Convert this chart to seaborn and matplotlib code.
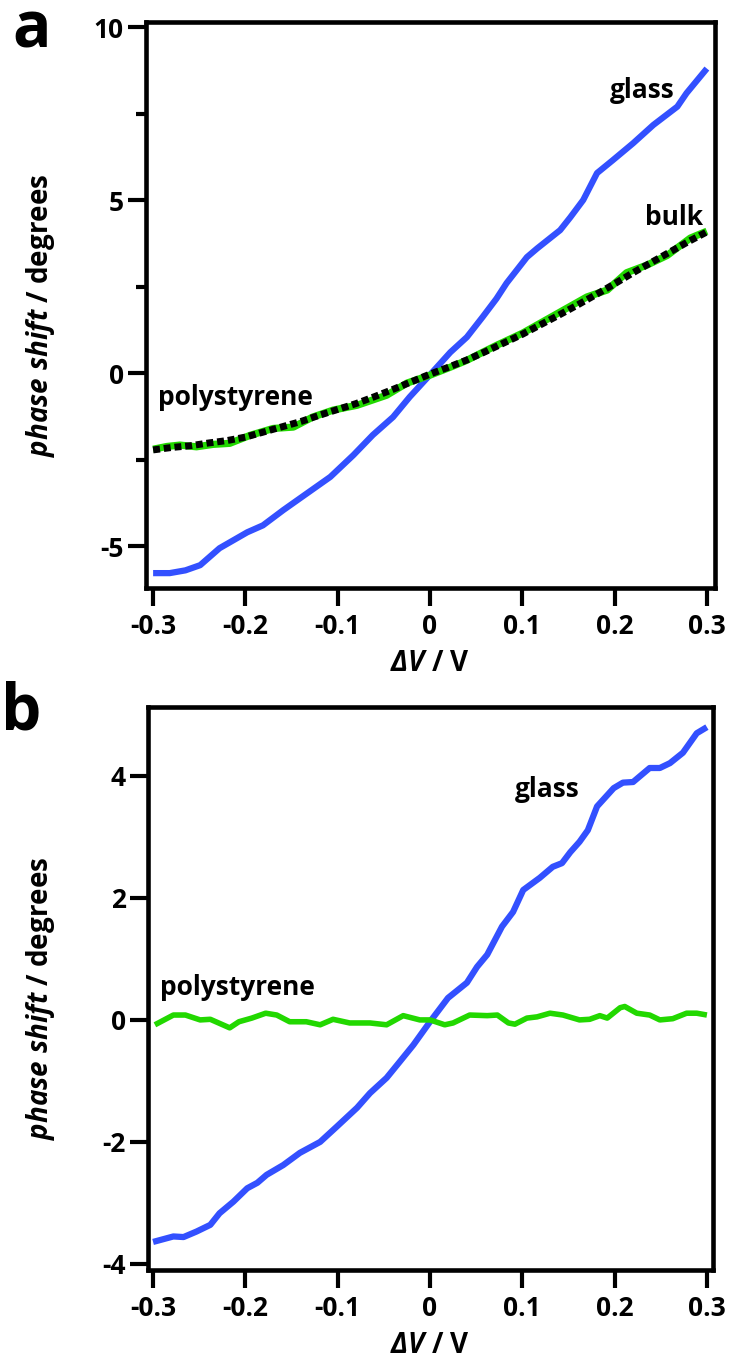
import matplotlib
matplotlib.use("Agg")
import matplotlib.pyplot as plt
from matplotlib.ticker import FixedLocator
import seaborn as sns

# ---- panel a: phase shift vs applied potential ----
a_glass_v = [-0.300, -0.282, -0.265, -0.249, -0.228, -0.198, -0.181, -0.159, -0.133, -0.108,
             -0.083, -0.062, -0.040, -0.022, 0.000, 0.022, 0.040, 0.057, 0.072, 0.083,
             0.105, 0.116, 0.141, 0.152, 0.166, 0.181, 0.198, 0.220, 0.242, 0.268,
             0.278, 0.300]
a_glass_phase = [-5.78, -5.78, -5.70, -5.55, -5.06, -4.60, -4.40, -3.96, -3.47, -3.00,
                 -2.37, -1.79, -1.27, -0.69, -0.05, 0.60, 1.04, 1.62, 2.15, 2.60,
                 3.35, 3.60, 4.13, 4.50, 5.00, 5.78, 6.15, 6.64, 7.17, 7.70,
                 8.09, 8.80]

a_ps_v = [-0.300, -0.285, -0.271, -0.253, -0.235, -0.217, -0.195, -0.170, -0.148, -0.127,
          -0.105, -0.079, -0.047, -0.025, 0.000, 0.022, 0.040, 0.057, 0.072, 0.100,
          0.130, 0.150, 0.170, 0.192, 0.213, 0.235, 0.257, 0.282, 0.300]
a_ps_phase = [-2.20, -2.12, -2.08, -2.13, -2.06, -2.03, -1.80, -1.60, -1.56, -1.27,
              -1.07, -0.93, -0.64, -0.29, -0.06, 0.17, 0.37, 0.60, 0.80, 1.15,
              1.60, 1.90, 2.20, 2.40, 2.90, 3.12, 3.40, 3.90, 4.10]

a_bulk_v = [-0.30, -0.28, -0.26, -0.24, -0.22, -0.20, -0.18, -0.16, -0.14, -0.12,
            -0.10, -0.08, -0.06, -0.04, -0.02, 0.00, 0.02, 0.04, 0.06, 0.08,
            0.10, 0.12, 0.14, 0.16, 0.18, 0.20, 0.22, 0.24, 0.26, 0.28, 0.30]
a_bulk_phase = [-2.22, -2.15, -2.10, -2.02, -1.95, -1.85, -1.70, -1.55, -1.40, -1.22,
                -1.05, -0.88, -0.68, -0.47, -0.25, -0.03, 0.17, 0.38, 0.62, 0.87,
                1.12, 1.40, 1.68, 1.97, 2.27, 2.58, 2.90, 3.20, 3.50, 3.80, 4.08]

# ---- panel b ----
b_glass_v = [-0.300, -0.278, -0.267, -0.253, -0.238, -0.228, -0.213, -0.198, -0.187, -0.177,
             -0.159, -0.141, -0.119, -0.101, -0.079, -0.065, -0.047, -0.033, -0.018, 0.000,
             0.0195, 0.040, 0.051, 0.062, 0.078, 0.090, 0.101, 0.119, 0.133, 0.143,
             0.152, 0.162, 0.171, 0.181, 0.199, 0.209, 0.220, 0.238, 0.249, 0.260,
             0.274, 0.289, 0.300]
b_glass_phase = [-3.64, -3.55, -3.56, -3.47, -3.36, -3.17, -2.98, -2.76, -2.67, -2.54,
                 -2.38, -2.18, -2.00, -1.75, -1.44, -1.20, -0.95, -0.69, -0.41, -0.03,
                 0.36, 0.61, 0.87, 1.07, 1.53, 1.77, 2.13, 2.33, 2.51, 2.57,
                 2.75, 2.92, 3.11, 3.50, 3.80, 3.89, 3.90, 4.13, 4.13, 4.21,
                 4.38, 4.70, 4.80]

b_ps_v = [-0.298, -0.278, -0.265, -0.249, -0.238, -0.217, -0.207, -0.193, -0.178, -0.166,
          -0.152, -0.134, -0.119, -0.105, -0.087, -0.065, -0.047, -0.029, -0.011, 0.000,
          0.016, 0.025, 0.043, 0.062, 0.073, 0.085, 0.092, 0.105, 0.116, 0.130,
          0.144, 0.162, 0.173, 0.184, 0.192, 0.206, 0.211, 0.224, 0.238, 0.249,
          0.263, 0.278, 0.289, 0.300]
b_ps_phase = [-0.08, 0.08, 0.08, 0.00, 0.01, -0.13, -0.03, 0.03, 0.11, 0.08,
              -0.03, -0.03, -0.08, 0.01, -0.05, -0.05, -0.08, 0.07, 0.00, 0.00,
              -0.08, -0.05, 0.08, 0.07, 0.08, -0.05, -0.07, 0.03, 0.05, 0.11,
              0.08, 0.00, 0.01, 0.07, 0.03, 0.20, 0.22, 0.11, 0.08, 0.00,
              0.02, 0.11, 0.11, 0.08]

x_ticks = [-0.3, -0.2, -0.1, 0.0, 0.1, 0.2, 0.3]
x_ticklabels = ["-0.3", "-0.2", "-0.1", "0", "0.1", "0.2", "0.3"]
a_yticks = [-5, 0, 5, 10]
a_yminor = [-2.5, 2.5, 7.5]
b_yticks = [-4, -2, 0, 2, 4]

BLUE = "#3350ff"
GREEN = "#22d800"
INK = "black"

sns.set_theme(style="ticks")
plt.rcParams["font.family"] = ["Open Sans", "DejaVu Sans"]
plt.rcParams["font.weight"] = "bold"
plt.rcParams["text.color"] = INK
plt.rcParams["axes.labelcolor"] = INK
plt.rcParams["xtick.color"] = INK
plt.rcParams["ytick.color"] = INK
plt.rcParams["mathtext.fontset"] = "custom"
plt.rcParams["mathtext.rm"] = "Open Sans:bold"
plt.rcParams["mathtext.it"] = "Open Sans:italic:bold"
plt.rcParams["mathtext.bf"] = "Open Sans:bold"
plt.rcParams["mathtext.bfit"] = "Open Sans:italic:bold"

fig = plt.figure(figsize=(7.31, 13.6), dpi=100)
ax_a = fig.add_axes([146 / 731, 1 - 588 / 1360, 569 / 731, 566 / 1360])
ax_b = fig.add_axes([148 / 731, 1 - 1270 / 1360, 565 / 731, 563 / 1360])


def style_axes(ax, yticks, xlim, ylim):
    ax.set_xlim(*xlim)
    ax.set_ylim(*ylim)
    ax.set_xticks(x_ticks)
    ax.set_xticklabels(x_ticklabels)
    ax.set_yticks(yticks)
    ax.set_yticklabels([str(t) for t in yticks])
    for sp in ax.spines.values():
        sp.set_visible(True)
        sp.set_linewidth(3.3)
        sp.set_color(INK)
    ax.tick_params(axis="both", which="major", direction="out", length=13, width=3,
                   color=INK, labelsize=19, labelcolor=INK)
    ax.tick_params(axis="x", pad=5)
    ax.tick_params(axis="y", pad=3)
    ax.tick_params(axis="y", which="minor", direction="out", length=7, width=3, color=INK)
    for lab in ax.get_xticklabels() + ax.get_yticklabels():
        lab.set_fontweight("bold")
        lab.set_color(INK)
    ax.set_xlabel("")
    ax.set_ylabel("")
    ax.grid(False)
    ax.set_facecolor("white")


label_kw = dict(fontsize=19, fontweight="bold", color=INK, ha="left", va="baseline")

# panel a curves
sns.lineplot(x=a_glass_v, y=a_glass_phase, ax=ax_a, color=BLUE, lw=4.5,
             estimator=None, sort=False, solid_capstyle="butt")
sns.lineplot(x=a_ps_v, y=a_ps_phase, ax=ax_a, color=GREEN, lw=5.2,
             estimator=None, sort=False, solid_capstyle="butt")
sns.lineplot(x=a_bulk_v, y=a_bulk_phase, ax=ax_a, color=INK, lw=5.0,
             linestyle=(0, (1, 0.55)), estimator=None, sort=False, dash_capstyle="butt")
style_axes(ax_a, a_yticks, (-0.3077, 0.3088), (-6.21, 10.145))
ax_a.yaxis.set_minor_locator(FixedLocator(a_yminor))
ax_a.tick_params(axis="x", which="minor", length=0)

ax_a.text(0.195, 7.95, "glass", **label_kw)
ax_a.text(0.233, 4.28, "bulk", **label_kw)
ax_a.text(-0.2947, -0.92, "polystyrene", **label_kw)

# panel b curves
sns.lineplot(x=b_glass_v, y=b_glass_phase, ax=ax_b, color=BLUE, lw=4.5,
             estimator=None, sort=False, solid_capstyle="butt")
sns.lineplot(x=b_ps_v, y=b_ps_phase, ax=ax_b, color=GREEN, lw=4.0,
             estimator=None, sort=False, solid_capstyle="butt")
style_axes(ax_b, b_yticks, (-0.3055, 0.3066), (-4.10, 5.13))
ax_b.minorticks_off()

ax_b.text(0.092, 3.66, "glass", **label_kw)
ax_b.text(-0.2925, 0.41, "polystyrene", **label_kw)

# axis titles and panel letters
ylab = r"$\mathbfit{phase\ shift}$ / degrees"
xlab = r"$\mathbfit{\Delta V}$ / V"
fig.text(41 / 731, 1 - 315 / 1360, ylab, rotation=90, ha="center", va="center",
         fontsize=20, fontweight="bold", color=INK)
fig.text(41 / 731, 1 - 998 / 1360, ylab, rotation=90, ha="center", va="center",
         fontsize=20, fontweight="bold", color=INK)
fig.text(430 / 731, 1 - 671 / 1360, xlab, ha="center", va="baseline",
         fontsize=20, fontweight="bold", color=INK)
fig.text(430 / 731, 1 - 1353 / 1360, xlab, ha="center", va="baseline",
         fontsize=20, fontweight="bold", color=INK)
fig.text(12 / 731, 1 - 48 / 1360, "a", ha="left", va="baseline", fontsize=46,
         fontweight="bold", color=INK)
fig.text(1 / 731, 1 - 730 / 1360, "b", ha="left", va="baseline", fontsize=46,
         fontweight="bold", color=INK)

fig.savefig("out.png", dpi=100, facecolor="white")
